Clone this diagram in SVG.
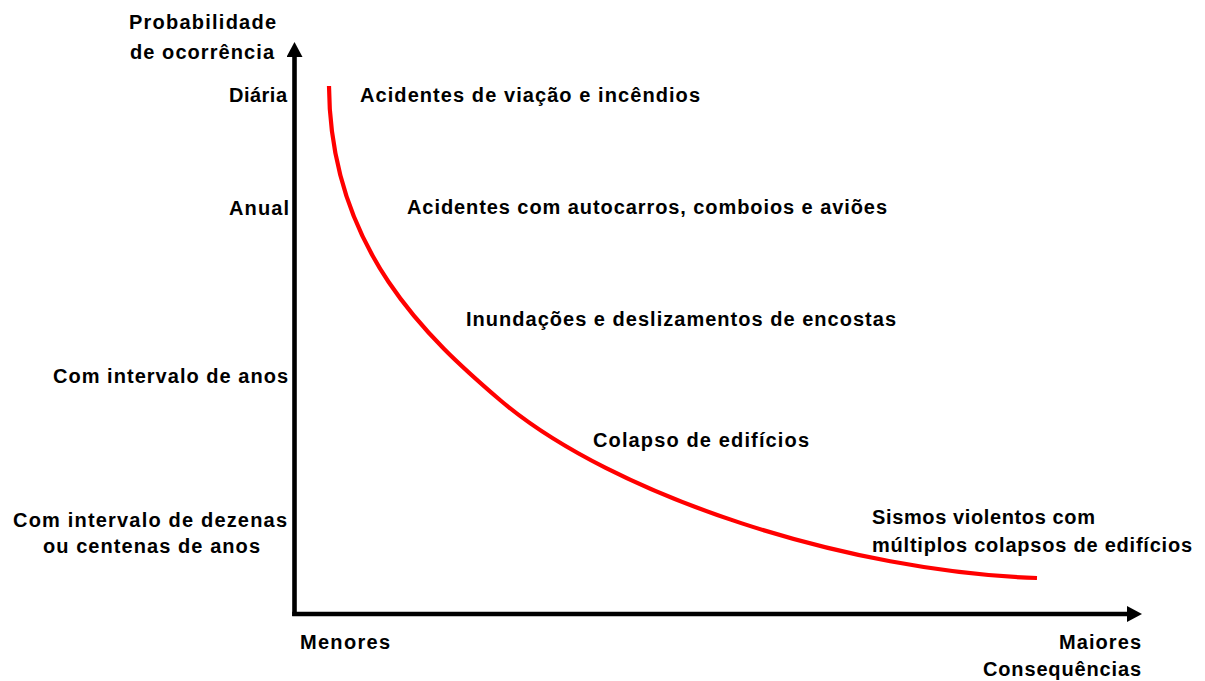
<svg xmlns="http://www.w3.org/2000/svg" width="1205" height="681" viewBox="0 0 1205 681">
  <style>
    text { font-family: "Liberation Sans", Arial, sans-serif; font-weight: bold; font-size: 20px; fill: #000; }
    .axis { stroke: #000; stroke-width: 4.6; fill: none; }
    .curve { stroke: #ff0000; stroke-width: 4.2; fill: none; }
  </style>
  <defs>
    <marker id="arrow" viewBox="0 0 15 16" refX="0" refY="8" markerWidth="15" markerHeight="16" markerUnits="userSpaceOnUse" orient="auto">
      <path d="M0,0 L15,8 L0,16 z" fill="#000"/>
    </marker>
  </defs>
  <rect width="1205" height="681" fill="#fff"/>

  <g id="connectors">
    <line id="y-axis" class="axis" x1="294.5" y1="616" x2="294.5" y2="57" marker-end="url(#arrow)"/>
    <line id="x-axis" class="axis" x1="292.2" y1="614" x2="1127" y2="614" marker-end="url(#arrow)"/>
    <path id="risk-curve" class="curve" d="M329,86 C330,250 430,340 500,400 C614,497 850,572 1037,578"/>
  </g>

  <g id="y-title">
    <text x="129" y="29" textLength="147" lengthAdjust="spacing">Probabilidade</text>
    <text x="130" y="58.5" textLength="144" lengthAdjust="spacing">de ocorrência</text>
  </g>

  <g id="y-labels">
    <text x="229" y="101.7" textLength="58" lengthAdjust="spacing">Diária</text>
    <text x="229" y="215" textLength="60" lengthAdjust="spacing">Anual</text>
    <text x="53" y="383" textLength="235" lengthAdjust="spacing">Com intervalo de anos</text>
    <text x="13" y="526.7" textLength="274" lengthAdjust="spacing">Com intervalo de dezenas</text>
    <text x="43" y="552.5" textLength="217" lengthAdjust="spacing">ou centenas de anos</text>
  </g>

  <g id="events">
    <text x="360" y="101.7" textLength="340" lengthAdjust="spacing">Acidentes de viação e incêndios</text>
    <text x="407" y="214" textLength="480" lengthAdjust="spacing">Acidentes com autocarros, comboios e aviões</text>
    <text x="466" y="326" textLength="430" lengthAdjust="spacing">Inundações e deslizamentos de encostas</text>
    <text x="593" y="446.7" textLength="216" lengthAdjust="spacing">Colapso de edifícios</text>
    <text x="872" y="524" textLength="223" lengthAdjust="spacing">Sismos violentos com</text>
    <text x="872" y="551.7" textLength="320" lengthAdjust="spacing">múltiplos colapsos de edifícios</text>
  </g>

  <g id="x-labels">
    <text x="300" y="649" textLength="90" lengthAdjust="spacing">Menores</text>
    <text x="1059" y="649" textLength="82" lengthAdjust="spacing">Maiores</text>
    <text x="983" y="676" textLength="158" lengthAdjust="spacing">Consequências</text>
  </g>
</svg>
